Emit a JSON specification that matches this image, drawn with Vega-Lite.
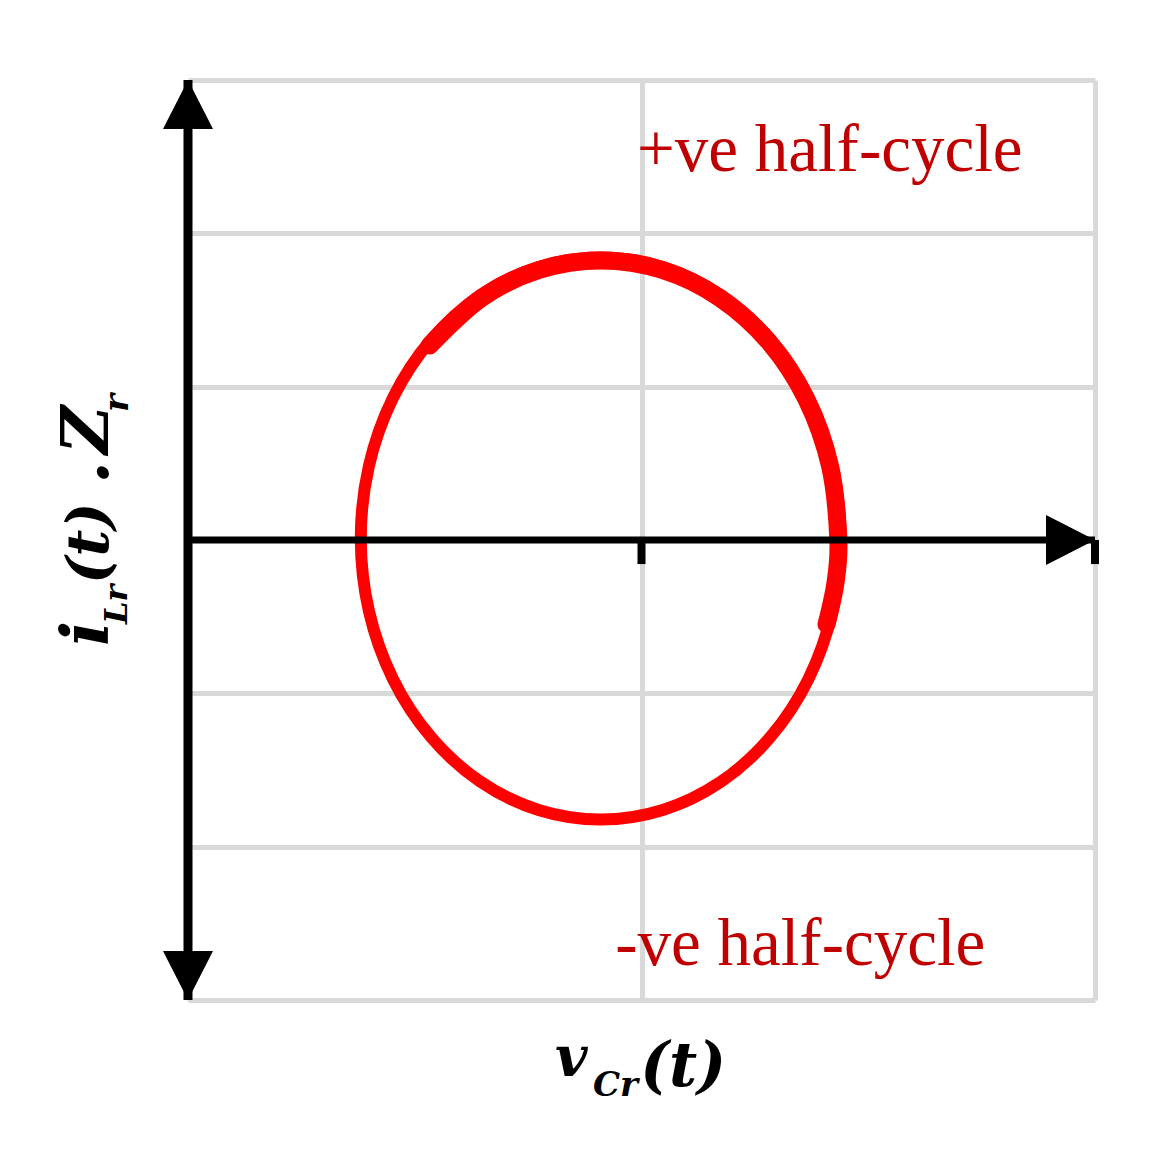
{
  "$schema": "https://vega.github.io/schema/vega-lite/v6.json",
  "width": 907,
  "height": 920,
  "autosize": {"type": "none"},
  "padding": {"left": 188, "top": 80, "right": 73, "bottom": 160},
  "background": "white",
  "data": {"values": [{}]},
  "config": {
    "view": {"stroke": null},
    "axis": {"domain": false, "ticks": false, "labels": false, "title": null, "grid": true, "gridColor": "#D9D9D9", "gridWidth": 5, "gridOpacity": 1}
  },
  "datasets": {
    "loop": [
      {"k": 0, "vc": 0.439, "il": 0.010},
      {"k": 1, "vc": 0.421, "il": 0.484},
      {"k": 2, "vc": 0.368, "il": 0.927},
      {"k": 3, "vc": 0.284, "il": 1.306},
      {"k": 4, "vc": 0.175, "il": 1.597},
      {"k": 5, "vc": 0.047, "il": 1.781},
      {"k": 6, "vc": -0.090, "il": 1.843},
      {"k": 7, "vc": -0.227, "il": 1.781},
      {"k": 8, "vc": -0.355, "il": 1.597},
      {"k": 9, "vc": -0.464, "il": 1.306},
      {"k": 10, "vc": -0.548, "il": 0.927},
      {"k": 11, "vc": -0.601, "il": 0.484},
      {"k": 12, "vc": -0.619, "il": 0.010},
      {"k": 13, "vc": -0.601, "il": -0.464},
      {"k": 14, "vc": -0.548, "il": -0.907},
      {"k": 15, "vc": -0.464, "il": -1.286},
      {"k": 16, "vc": -0.355, "il": -1.577},
      {"k": 17, "vc": -0.227, "il": -1.761},
      {"k": 18, "vc": -0.090, "il": -1.823},
      {"k": 19, "vc": 0.047, "il": -1.761},
      {"k": 20, "vc": 0.175, "il": -1.577},
      {"k": 21, "vc": 0.284, "il": -1.286},
      {"k": 22, "vc": 0.368, "il": -0.907},
      {"k": 23, "vc": 0.421, "il": -0.464}
    ],
    "arc": [
      {"k": 0, "vc": -0.467, "il": 1.269},
      {"k": 1, "vc": -0.352, "il": 1.580},
      {"k": 2, "vc": -0.226, "il": 1.761},
      {"k": 3, "vc": -0.090, "il": 1.823},
      {"k": 4, "vc": 0.046, "il": 1.761},
      {"k": 5, "vc": 0.172, "il": 1.580},
      {"k": 6, "vc": 0.281, "il": 1.292},
      {"k": 7, "vc": 0.364, "il": 0.916},
      {"k": 8, "vc": 0.416, "il": 0.479},
      {"k": 9, "vc": 0.434, "il": 0.010},
      {"k": 10, "vc": 0.428, "il": -0.274},
      {"k": 11, "vc": 0.408, "il": -0.550}
    ],
    "ticks": [{"vc": 0}, {"vc": 1}],
    "notes": [
      {"vc": -0.010, "il": 2.407, "label": "+ve half-cycle"},
      {"vc": -0.058, "il": -2.772, "label": "-ve half-cycle"}
    ]
  },
  "layer": [
    {
      "data": {"name": "loop"},
      "mark": {"type": "line", "interpolate": "cardinal-closed", "color": "#FF0000", "strokeWidth": 12},
      "encoding": {
        "x": {"field": "vc", "type": "quantitative", "scale": {"domain": [-1, 1], "nice": false, "zero": false}, "axis": {"values": [-1, 0, 1]}},
        "y": {"field": "il", "type": "quantitative", "scale": {"domain": [-3, 3], "nice": false, "zero": false}, "axis": {"values": [-3, -2, -1, 0, 1, 2, 3]}},
        "order": {"field": "k", "type": "quantitative"}
      }
    },
    {
      "data": {"name": "arc"},
      "mark": {"type": "line", "interpolate": "cardinal", "color": "#FF0000", "strokeWidth": 18, "strokeCap": "round"},
      "encoding": {
        "x": {"field": "vc", "type": "quantitative"},
        "y": {"field": "il", "type": "quantitative"},
        "order": {"field": "k", "type": "quantitative"}
      }
    },
    {
      "mark": {"type": "rule", "color": "black", "strokeWidth": 9},
      "encoding": {
        "x": {"datum": -1, "type": "quantitative"},
        "y": {"datum": -3, "type": "quantitative"},
        "y2": {"datum": 3}
      }
    },
    {
      "mark": {"type": "rule", "color": "black", "strokeWidth": 7},
      "encoding": {
        "x": {"datum": -1, "type": "quantitative"},
        "x2": {"datum": 1},
        "y": {"datum": 0, "type": "quantitative"}
      }
    },
    {
      "data": {"name": "ticks"},
      "mark": {"type": "rule", "color": "black", "strokeWidth": 8},
      "encoding": {
        "x": {"field": "vc", "type": "quantitative"},
        "y": {"datum": 0, "type": "quantitative"},
        "y2": {"datum": -0.157}
      }
    },
    {
      "mark": {"type": "point", "shape": "M0,-1L-1,0.96L1,0.96Z", "size": 2500, "filled": true, "color": "black", "opacity": 1, "strokeWidth": 0, "yOffset": 25},
      "encoding": {"x": {"datum": -1, "type": "quantitative"}, "y": {"datum": 3, "type": "quantitative"}}
    },
    {
      "mark": {"type": "point", "shape": "M0,1L-1,-0.96L1,-0.96Z", "size": 2500, "filled": true, "color": "black", "opacity": 1, "strokeWidth": 0, "yOffset": -25},
      "encoding": {"x": {"datum": -1, "type": "quantitative"}, "y": {"datum": -3, "type": "quantitative"}}
    },
    {
      "mark": {"type": "point", "shape": "M1,0L-0.96,-1L-0.96,1Z", "size": 2500, "filled": true, "color": "black", "opacity": 1, "strokeWidth": 0, "xOffset": -25},
      "encoding": {"x": {"datum": 1, "type": "quantitative"}, "y": {"datum": 0, "type": "quantitative"}}
    },
    {
      "data": {"name": "notes"},
      "mark": {"type": "text", "align": "left", "baseline": "alphabetic", "font": "Liberation Serif", "fontSize": 67, "color": "#C00000"},
      "encoding": {
        "x": {"field": "vc", "type": "quantitative"},
        "y": {"field": "il", "type": "quantitative"},
        "text": {"field": "label"}
      }
    },
    {
      "mark": {"type": "text", "align": "left", "baseline": "alphabetic", "font": "DejaVu Serif", "fontStyle": "italic", "fontWeight": "bold", "fontSize": 56, "color": "black"},
      "encoding": {"x": {"datum": -0.191, "type": "quantitative"}, "y": {"datum": -3.496, "type": "quantitative"}, "text": {"value": "v"}}
    },
    {
      "mark": {"type": "text", "align": "left", "baseline": "alphabetic", "font": "DejaVu Serif", "fontStyle": "italic", "fontWeight": "bold", "fontSize": 34, "color": "black"},
      "encoding": {"x": {"datum": -0.107, "type": "quantitative"}, "y": {"datum": -3.627, "type": "quantitative"}, "text": {"value": "Cr"}}
    },
    {
      "mark": {"type": "text", "align": "left", "baseline": "alphabetic", "font": "DejaVu Serif", "fontStyle": "italic", "fontWeight": "bold", "fontSize": 61, "color": "black"},
      "encoding": {"x": {"datum": -0.003, "type": "quantitative"}, "y": {"datum": -3.562, "type": "quantitative"}, "text": {"value": "(t)"}}
    },
    {
      "mark": {"type": "text", "align": "left", "baseline": "alphabetic", "angle": 270, "font": "DejaVu Serif", "fontStyle": "italic", "fontWeight": "bold", "fontSize": 66, "color": "black"},
      "encoding": {"x": {"datum": -1.176, "type": "quantitative"}, "y": {"datum": -0.691, "type": "quantitative"}, "text": {"value": "i"}}
    },
    {
      "mark": {"type": "text", "align": "left", "baseline": "alphabetic", "angle": 270, "font": "DejaVu Serif", "fontStyle": "italic", "fontWeight": "bold", "fontSize": 32, "color": "black"},
      "encoding": {"x": {"datum": -1.134, "type": "quantitative"}, "y": {"datum": -0.548, "type": "quantitative"}, "text": {"value": "Lr"}}
    },
    {
      "mark": {"type": "text", "align": "left", "baseline": "alphabetic", "angle": 270, "font": "DejaVu Serif", "fontStyle": "italic", "fontWeight": "bold", "fontSize": 58, "color": "black"},
      "encoding": {"x": {"datum": -1.176, "type": "quantitative"}, "y": {"datum": -0.287, "type": "quantitative"}, "text": {"value": "(t)"}}
    },
    {
      "mark": {"type": "text", "align": "left", "baseline": "alphabetic", "angle": 270, "font": "DejaVu Serif", "fontStyle": "italic", "fontWeight": "bold", "fontSize": 66, "color": "black"},
      "encoding": {"x": {"datum": -1.176, "type": "quantitative"}, "y": {"datum": 0.365, "type": "quantitative"}, "text": {"value": "."}}
    },
    {
      "mark": {"type": "text", "align": "left", "baseline": "alphabetic", "angle": 270, "font": "DejaVu Serif", "fontStyle": "italic", "fontWeight": "bold", "fontSize": 66, "color": "black"},
      "encoding": {"x": {"datum": -1.176, "type": "quantitative"}, "y": {"datum": 0.561, "type": "quantitative"}, "text": {"value": "Z"}}
    },
    {
      "mark": {"type": "text", "align": "left", "baseline": "alphabetic", "angle": 270, "font": "DejaVu Serif", "fontStyle": "italic", "fontWeight": "bold", "fontSize": 34, "color": "black"},
      "encoding": {"x": {"datum": -1.132, "type": "quantitative"}, "y": {"datum": 0.835, "type": "quantitative"}, "text": {"value": "r"}}
    }
  ]
}
